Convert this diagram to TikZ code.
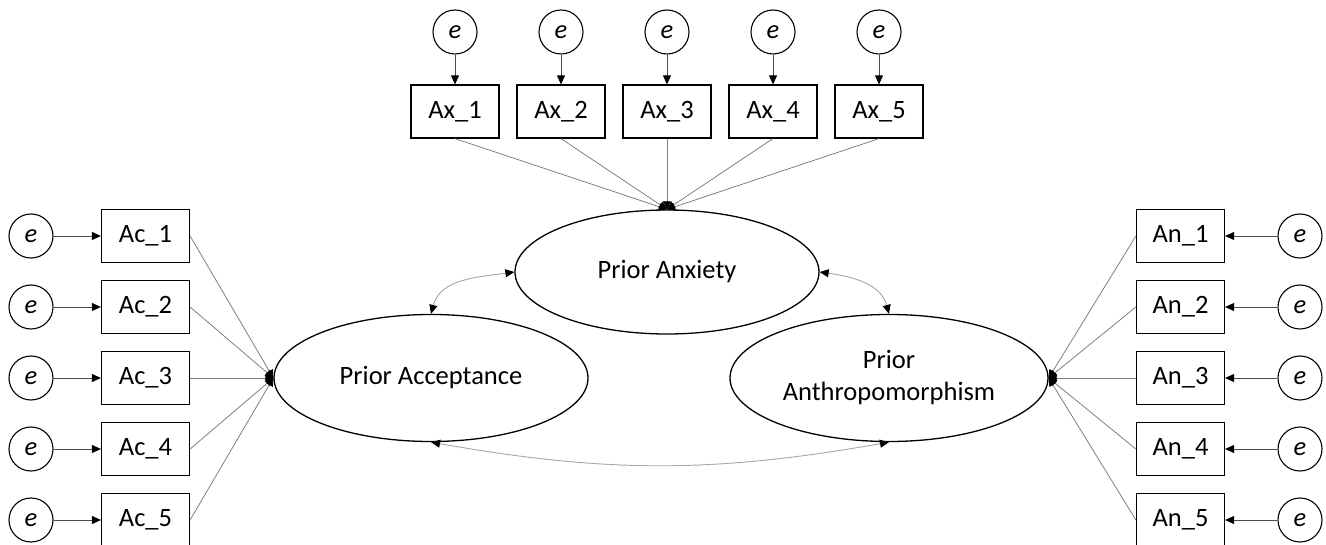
\documentclass[tikz,border=0pt]{standalone}
\usepackage{fontspec}
\setmainfont{Carlito}
\usetikzlibrary{arrows.meta,shapes.geometric}

\begin{document}
\begin{tikzpicture}[x=1pt, y=1pt,
  every node/.style={font=\fontsize{26.5}{32}\selectfont},
  item/.style={draw, line width=1.2pt, minimum width=88pt, minimum height=53pt, inner sep=0pt},
  err/.style={draw, circle, line width=1.1pt, minimum size=44pt, inner sep=0pt,
    font=\fontsize{26.5}{32}\selectfont\itshape},
  latent/.style={draw, ellipse, line width=1.3pt, inner sep=0pt, align=center},
  load/.style={draw=gray, line width=0.8pt, -{Triangle[length=8pt,width=8pt,color=black]}},
  res/.style={draw=black!70, line width=0.9pt, -{Triangle[length=9pt,width=8pt,color=black]}},
  cov/.style={draw=black!35, line width=0.9pt,
    {Triangle[length=9pt,width=8pt,color=black]}-{Triangle[length=9pt,width=8pt,color=black]}}]
  \useasboundingbox (0,0) rectangle (1326,544);

  % Latent factors
  \node[latent, minimum width=304pt, minimum height=124pt] (anx) at (667,272) {Prior Anxiety};
  \node[latent, minimum width=314pt, minimum height=127pt] (acc) at (431,166) {Prior Acceptance};
  \node[latent, minimum width=318pt, minimum height=127pt] (anth) at (889,166) {Prior\\Anthropomorphism};

  % Anxiety items
  \foreach \i in {1,...,5} {
    \node[item] (ax\i) at ({349+106*\i},432.5) {Ax\_\i};
    \node[err] (eax\i) at ({349+106*\i},512) {e};
    \draw[res] (eax\i) -- (ax\i);
    \draw[load] (ax\i.south) -- (anx.north);
  }

  % Acceptance items
  \foreach \i in {1,...,5} {
    \node[item] (ac\i) at (145.5,{379-71*\i}) {Ac\_\i};
    \node[err] (eac\i) at (31,{379-71*\i}) {e};
    \draw[res] (eac\i) -- (ac\i);
    \draw[load] (ac\i.east) -- (acc.west);
  }

  % Anthropomorphism items
  \foreach \i in {1,...,5} {
    \node[item] (an\i) at (1180.5,{379-71*\i}) {An\_\i};
    \node[err] (ean\i) at (1300,{379-71*\i}) {e};
    \draw[res] (ean\i) -- (an\i);
    \draw[load] (an\i.west) -- (anth.east);
  }

  % Covariances
  \draw[cov] (acc.north) to[out=75, in=188] (anx.west);
  \draw[cov] (anx.east) to[out=-8, in=105] (anth.north);
  \draw[cov] (acc.south) to[out=-10, in=-170] (anth.south);
\end{tikzpicture}
\end{document}
